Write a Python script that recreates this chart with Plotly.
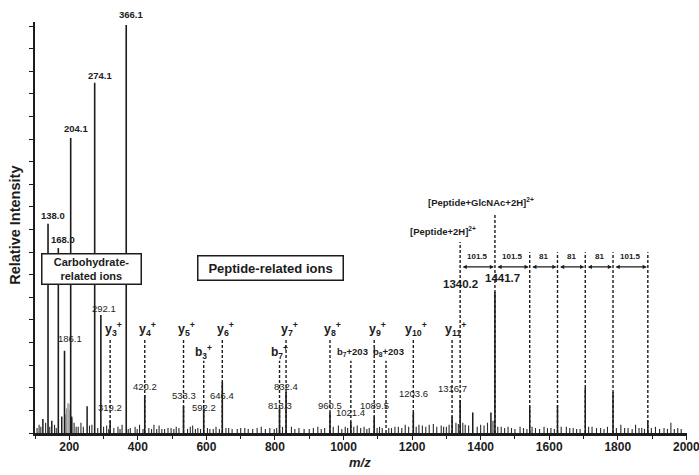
import plotly.graph_objects as go

# ---------------- data ----------------
# labelled peaks: m/z, relative intensity (%)
peak_mz = [138.0, 168.0, 186.1, 204.1, 274.1, 292.1, 319.2, 366.1, 420.2, 533.3,
           592.2, 646.4, 813.3, 832.4, 960.5, 1021.4, 1089.5, 1203.6, 1316.7,
           1340.2, 1441.7]
peak_int = [50.9, 45.0, 20.0, 71.8, 85.2, 28.7, 3.0, 99.3, 9.2, 6.5,
            6.0, 12.4, 6.0, 10.0, 5.0, 2.7, 4.0, 5.0, 4.0,
            8.0, 34.3]
peak_text = ["138.0", "168.0", "186.1", "204.1", "274.1", "292.1", "319.2", "366.1",
             "420.2", "533.3", "592.2", "646.4", "813.3", "832.4", "960.5", "1021.4",
             "1089.5", "1203.6", "1316.7", "1340.2", "1441.7"]
# other clearly visible (unlabelled) peaks
other_mz = [123, 149, 178, 207, 252, 1377, 1430, 1543.2, 1624.2, 1705.2, 1786.2, 1887.7]
other_int = [3.4, 3.0, 4.0, 4.0, 6.5, 5.0, 5.0, 6.5, 6.8, 11.0, 10.0, 3.0]
# grey cluster near 200
grey_mz = [188, 192, 196, 199, 202, 208]
grey_int = [4.5, 6.0, 7.3, 7.0, 5.5, 3.5]
# baseline noise spikes
noise_mz = [106, 112, 117, 131, 143, 157, 162, 214, 220, 226, 234, 241, 259, 266, 283,
            300, 309, 315, 330, 342, 348, 354, 372, 378, 392, 398, 405, 415, 432, 440,
            447, 455, 462, 470, 478, 488, 497, 505, 512, 520, 545, 553, 560, 568, 575,
            583, 603, 610, 620, 628, 638, 657, 665, 675, 690, 700, 712, 722, 735, 748,
            760, 772, 785, 798, 805, 822, 848, 858, 870, 885, 900, 912, 925, 935, 945,
            970, 985, 995, 1005, 1012, 1030, 1040, 1050, 1060, 1068, 1075, 1098, 1105,
            1113, 1132, 1140, 1150, 1160, 1170, 1180, 1190, 1212, 1220, 1230, 1240,
            1250, 1262, 1272, 1285, 1292, 1300, 1308, 1328, 1335, 1348, 1355, 1365,
            1390, 1400, 1410, 1420, 1436, 1450, 1460, 1470, 1480, 1490, 1500, 1515,
            1525, 1535, 1550, 1560, 1572, 1585, 1595, 1605, 1615, 1635, 1650, 1660,
            1670, 1680, 1690, 1715, 1725, 1738, 1750, 1760, 1770, 1796, 1809, 1820,
            1830, 1842, 1852, 1862, 1870, 1878, 1898, 1910, 1922, 1935, 1945, 1955,
            1965, 1975, 1985]
noise_int = [1.2, 2.0, 1.5, 2.5, 1.5, 2.0, 1.2, 2.5, 1.5, 1.5, 2.5, 1.5, 1.8, 2.0, 1.2,
             1.5, 1.8, 1.0, 1.2, 1.5, 1.0, 2.0, 1.0, 1.2, 1.5, 1.0, 2.0, 1.0, 1.2, 1.0,
             2.0, 1.0, 1.8, 1.0, 1.0, 1.2, 1.2, 1.0, 1.5, 1.2, 1.0, 1.5, 1.8, 1.0, 1.2,
             1.0, 1.2, 1.0, 1.0, 1.5, 1.0, 1.2, 1.2, 1.0, 1.0, 1.2, 1.2, 1.0, 1.0, 1.2,
             1.5, 1.0, 1.2, 1.0, 1.2, 1.5, 1.5, 1.0, 1.2, 1.0, 1.0, 1.2, 1.5, 1.0, 1.2,
             1.5, 1.8, 1.0, 1.5, 1.2, 1.5, 1.8, 1.2, 1.5, 1.0, 1.2, 1.2, 1.5,
             1.2, 1.2, 1.2, 1.5, 1.5, 1.2, 2.0, 1.5, 1.5, 2.0, 1.8, 1.5,
             2.0, 2.2, 1.5, 1.8, 1.5, 1.5, 2.0, 2.5, 2.2, 2.5, 2.0, 1.8,
             1.5, 2.0, 1.8, 2.5, 3.0, 1.5, 1.5, 1.2, 1.5, 1.2, 1.0, 1.5,
             1.2, 1.0, 1.5, 1.2, 1.0, 1.5, 1.2, 1.2, 1.0, 1.5, 1.5, 1.2,
             1.2, 1.0, 1.0, 1.5, 1.5, 1.2, 1.2, 1.0, 1.5, 1.2, 2.0, 1.2,
             1.2, 1.0, 2.0, 1.2, 1.2, 1.0, 1.2, 1.5, 1.0, 1.2, 1.0, 2.5,
             1.0, 1.2, 1.0]

# fragment ion annotations
ion_text = ["y<sub>3</sub><sup>+</sup>", "y<sub>4</sub><sup>+</sup>", "y<sub>5</sub><sup>+</sup>",
            "b<sub>3</sub><sup>+</sup>", "y<sub>6</sub><sup>+</sup>", "b<sub>7</sub><sup>+</sup>",
            "y<sub>7</sub><sup>+</sup>", "y<sub>8</sub><sup>+</sup>", "b<sub>7</sub>+203",
            "y<sub>9</sub><sup>+</sup>", "b<sub>8</sub>+203", "y<sub>10</sub><sup>+</sup>",
            "y<sub>11</sub><sup>+</sup>"]
ion_mz = [319.2, 420.2, 533.3, 592.2, 646.4, 813.3, 832.4, 960.5, 1021.4, 1089.5,
          1124.0, 1203.6, 1316.7]
ion_kind = ["y", "y", "y", "b", "y", "b", "y", "y", "c", "y", "c", "y", "y"]

# glycan ladder of the doubly charged precursor
ladder_mz = [1340.2, 1441.7, 1543.2, 1624.2, 1705.2, 1786.2, 1887.7]
ladder_delta = ["101.5", "101.5", "81", "81", "81", "101.5"]

# ---------------- layout helpers ----------------
label_y = [53.0, 47.0, 22.9, 74.2, 87.1, 30.4, 6.3, 101.9, 11.2, 9.2,
           6.3, 9.2, 6.8, 11.2, 6.8, 4.9, 6.8, 9.7, 10.9, 36.3, 37.7]
label_xshift = [5, 5, 5, 5, 5, 3, 0, 5, 0, 0, 0, 0, 0, 0, 0, 0, 0, 0, 0, 0, 8]
big_labels = {"138.0", "168.0", "204.1", "274.1", "366.1"}
FONT = "Liberation Sans, Arial, sans-serif"
INK = "#1c1c1c"
YMAX = 100.0


def sticks(xs, ys):
    X, Y = [], []
    for x, y in zip(xs, ys):
        X += [x, x, None]
        Y += [0, y, None]
    return X, Y


fig = go.Figure()
nx, ny = sticks(noise_mz, noise_int)
fig.add_trace(go.Scatter(x=nx, y=ny, mode="lines", line=dict(color="#2a2a2a", width=1.1),
                         hoverinfo="skip", showlegend=False))
gx, gy = sticks(grey_mz, grey_int)
fig.add_trace(go.Scatter(x=gx, y=gy, mode="lines", line=dict(color="#9a9a9a", width=1.2),
                         hoverinfo="skip", showlegend=False))
ox, oy = sticks(other_mz, other_int)
fig.add_trace(go.Scatter(x=ox, y=oy, mode="lines", line=dict(color=INK, width=1.5),
                         hoverinfo="skip", showlegend=False))
px_, py_ = sticks(peak_mz, peak_int)
fig.add_trace(go.Scatter(x=px_, y=py_, mode="lines", line=dict(color=INK, width=1.6),
                         hoverinfo="skip", showlegend=False))

shapes = []
annotations = []
DASH = "3px,2px"

# peak labels (placed in paper units so labels above the axis top still show)
for t, x, y, xs in zip(peak_text, peak_mz, label_y, label_xshift):
    if t in big_labels:
        f = dict(family=FONT, size=9.5, color=INK, weight="bold")
    elif t in ("1340.2", "1441.7"):
        f = dict(family=FONT, size=11.5, color=INK, weight="bold")
    else:
        f = dict(family=FONT, size=9.5, color=INK)
    annotations.append(dict(x=x, y=y / YMAX, xref="x", yref="paper", text=t,
                            showarrow=False, xanchor="center", yanchor="middle",
                            xshift=xs, font=f))

# fragment ion labels + dashed guides
for t, x, k in zip(ion_text, ion_mz, ion_kind):
    ly = 25.3 if k == "y" else 19.7
    top = 23.0 if k == "y" else 17.6
    shapes.append(dict(type="line", xref="x", yref="y", x0=x, x1=x, y0=0, y1=top,
                       line=dict(color=INK, width=1.4, dash=DASH)))
    xs = 3 if k == "y" else (0 if k == "b" else 2)
    size = {"y": 12.5, "b": 12, "c": 9.5}[k]
    annotations.append(dict(x=x, y=ly, xref="x", yref="y", text=t, showarrow=False,
                            xanchor="center", yanchor="middle", xshift=xs,
                            font=dict(family=FONT, size=size, color=INK, weight="bold")))

# ladder dashed lines
ladder_top = [46.5, 53.5, 44.0, 44.0, 44.0, 44.0, 44.0]
for x, top in zip(ladder_mz, ladder_top):
    shapes.append(dict(type="line", xref="x", yref="y", x0=x, x1=x, y0=0, y1=top,
                       line=dict(color=INK, width=1.4, dash=DASH)))

# ladder arrows and deltas
ARROW_Y = 40.4
for i, d in enumerate(ladder_delta):
    x0, x1 = ladder_mz[i], ladder_mz[i + 1]
    annotations.append(dict(x=x1, y=ARROW_Y, ax=x0, ay=ARROW_Y, xref="x", yref="y",
                            axref="x", ayref="y", text="", showarrow=True,
                            arrowhead=2, startarrowhead=2, arrowside="end+start",
                            arrowsize=0.7, startarrowsize=0.7, arrowwidth=1.2,
                            arrowcolor=INK, standoff=1, startstandoff=1))
    annotations.append(dict(x=(x0 + x1) / 2, y=43.0, xref="x", yref="y", text=d,
                            showarrow=False, xanchor="center", yanchor="middle",
                            font=dict(family=FONT, size=8, color=INK, weight="bold")))

annotations.append(dict(x=ladder_mz[1], y=56.2, xref="x", yref="y",
                        text="[Peptide+GlcNAc+2H]<sup>2+</sup>", showarrow=False, xshift=-14,
                        xanchor="center", yanchor="middle",
                        font=dict(family=FONT, size=9.5, color=INK, weight="bold")))
annotations.append(dict(x=ladder_mz[0], y=49.2, xref="x", yref="y",
                        text="[Peptide+2H]<sup>2+</sup>", showarrow=False, xshift=-17,
                        xanchor="center", yanchor="middle",
                        font=dict(family=FONT, size=9.5, color=INK, weight="bold")))

# boxes
annotations.append(dict(x=0.086, y=0.399, xref="paper", yref="paper",
                        xanchor="center", yanchor="middle",
                        text="Carbohydrate-<br>related ions", showarrow=False,
                        font=dict(family=FONT, size=11, color=INK, weight="bold"),
                        bordercolor=INK, borderwidth=1.5, borderpad=1, bgcolor="white",
                        width=96, height=27))
annotations.append(dict(x=0.361, y=0.401, xref="paper", yref="paper",
                        xanchor="center", yanchor="middle",
                        text="Peptide-related ions", showarrow=False,
                        font=dict(family=FONT, size=13, color=INK, weight="bold"),
                        bordercolor=INK, borderwidth=1.5, borderpad=2, bgcolor="white",
                        width=140, height=19))

# axis titles
annotations.append(dict(x=-0.031, y=0.506, xref="paper", yref="paper",
                        xanchor="center", yanchor="middle",
                        text="Relative Intensity", textangle=-90, showarrow=False,
                        font=dict(family=FONT, size=14.5, color=INK, weight="bold")))
annotations.append(dict(x=0.499, y=-0.072, xref="paper", yref="paper",
                        xanchor="center", yanchor="middle",
                        text="<i>m/z</i>", showarrow=False,
                        font=dict(family=FONT, size=13, color=INK, weight="bold")))

fig.update_layout(
    width=699, height=475,
    margin=dict(l=35, r=12, t=22, b=42, autoexpand=False),
    paper_bgcolor="white", plot_bgcolor="white",
    shapes=shapes, annotations=annotations,
    showlegend=False,
    xaxis=dict(range=[100, 2002], showgrid=False, zeroline=False, automargin=False,
               showline=True, linecolor=INK, linewidth=2.5,
               ticks="outside", ticklen=4, tickwidth=1.3, tickcolor=INK,
               tick0=0, dtick=200, ticklabelstandoff=-3, ticklabeloverflow="allow",
               minor=dict(ticks="outside", ticklen=3, dtick=100, tickcolor=INK),
               tickfont=dict(family=FONT, size=12, color=INK, weight="bold")),
    yaxis=dict(range=[0, YMAX], showgrid=False, zeroline=False, automargin=False,
               showline=True, linecolor=INK, linewidth=1.8,
               ticks="outside", ticklen=4, tickwidth=1.3, tickcolor=INK,
               tick0=0, dtick=5.5, showticklabels=False),
)

fig.write_html("out.html", config={"displayModeBar": False},
               post_script="document.body.style.margin='0';document.body.style.overflow='hidden';")
